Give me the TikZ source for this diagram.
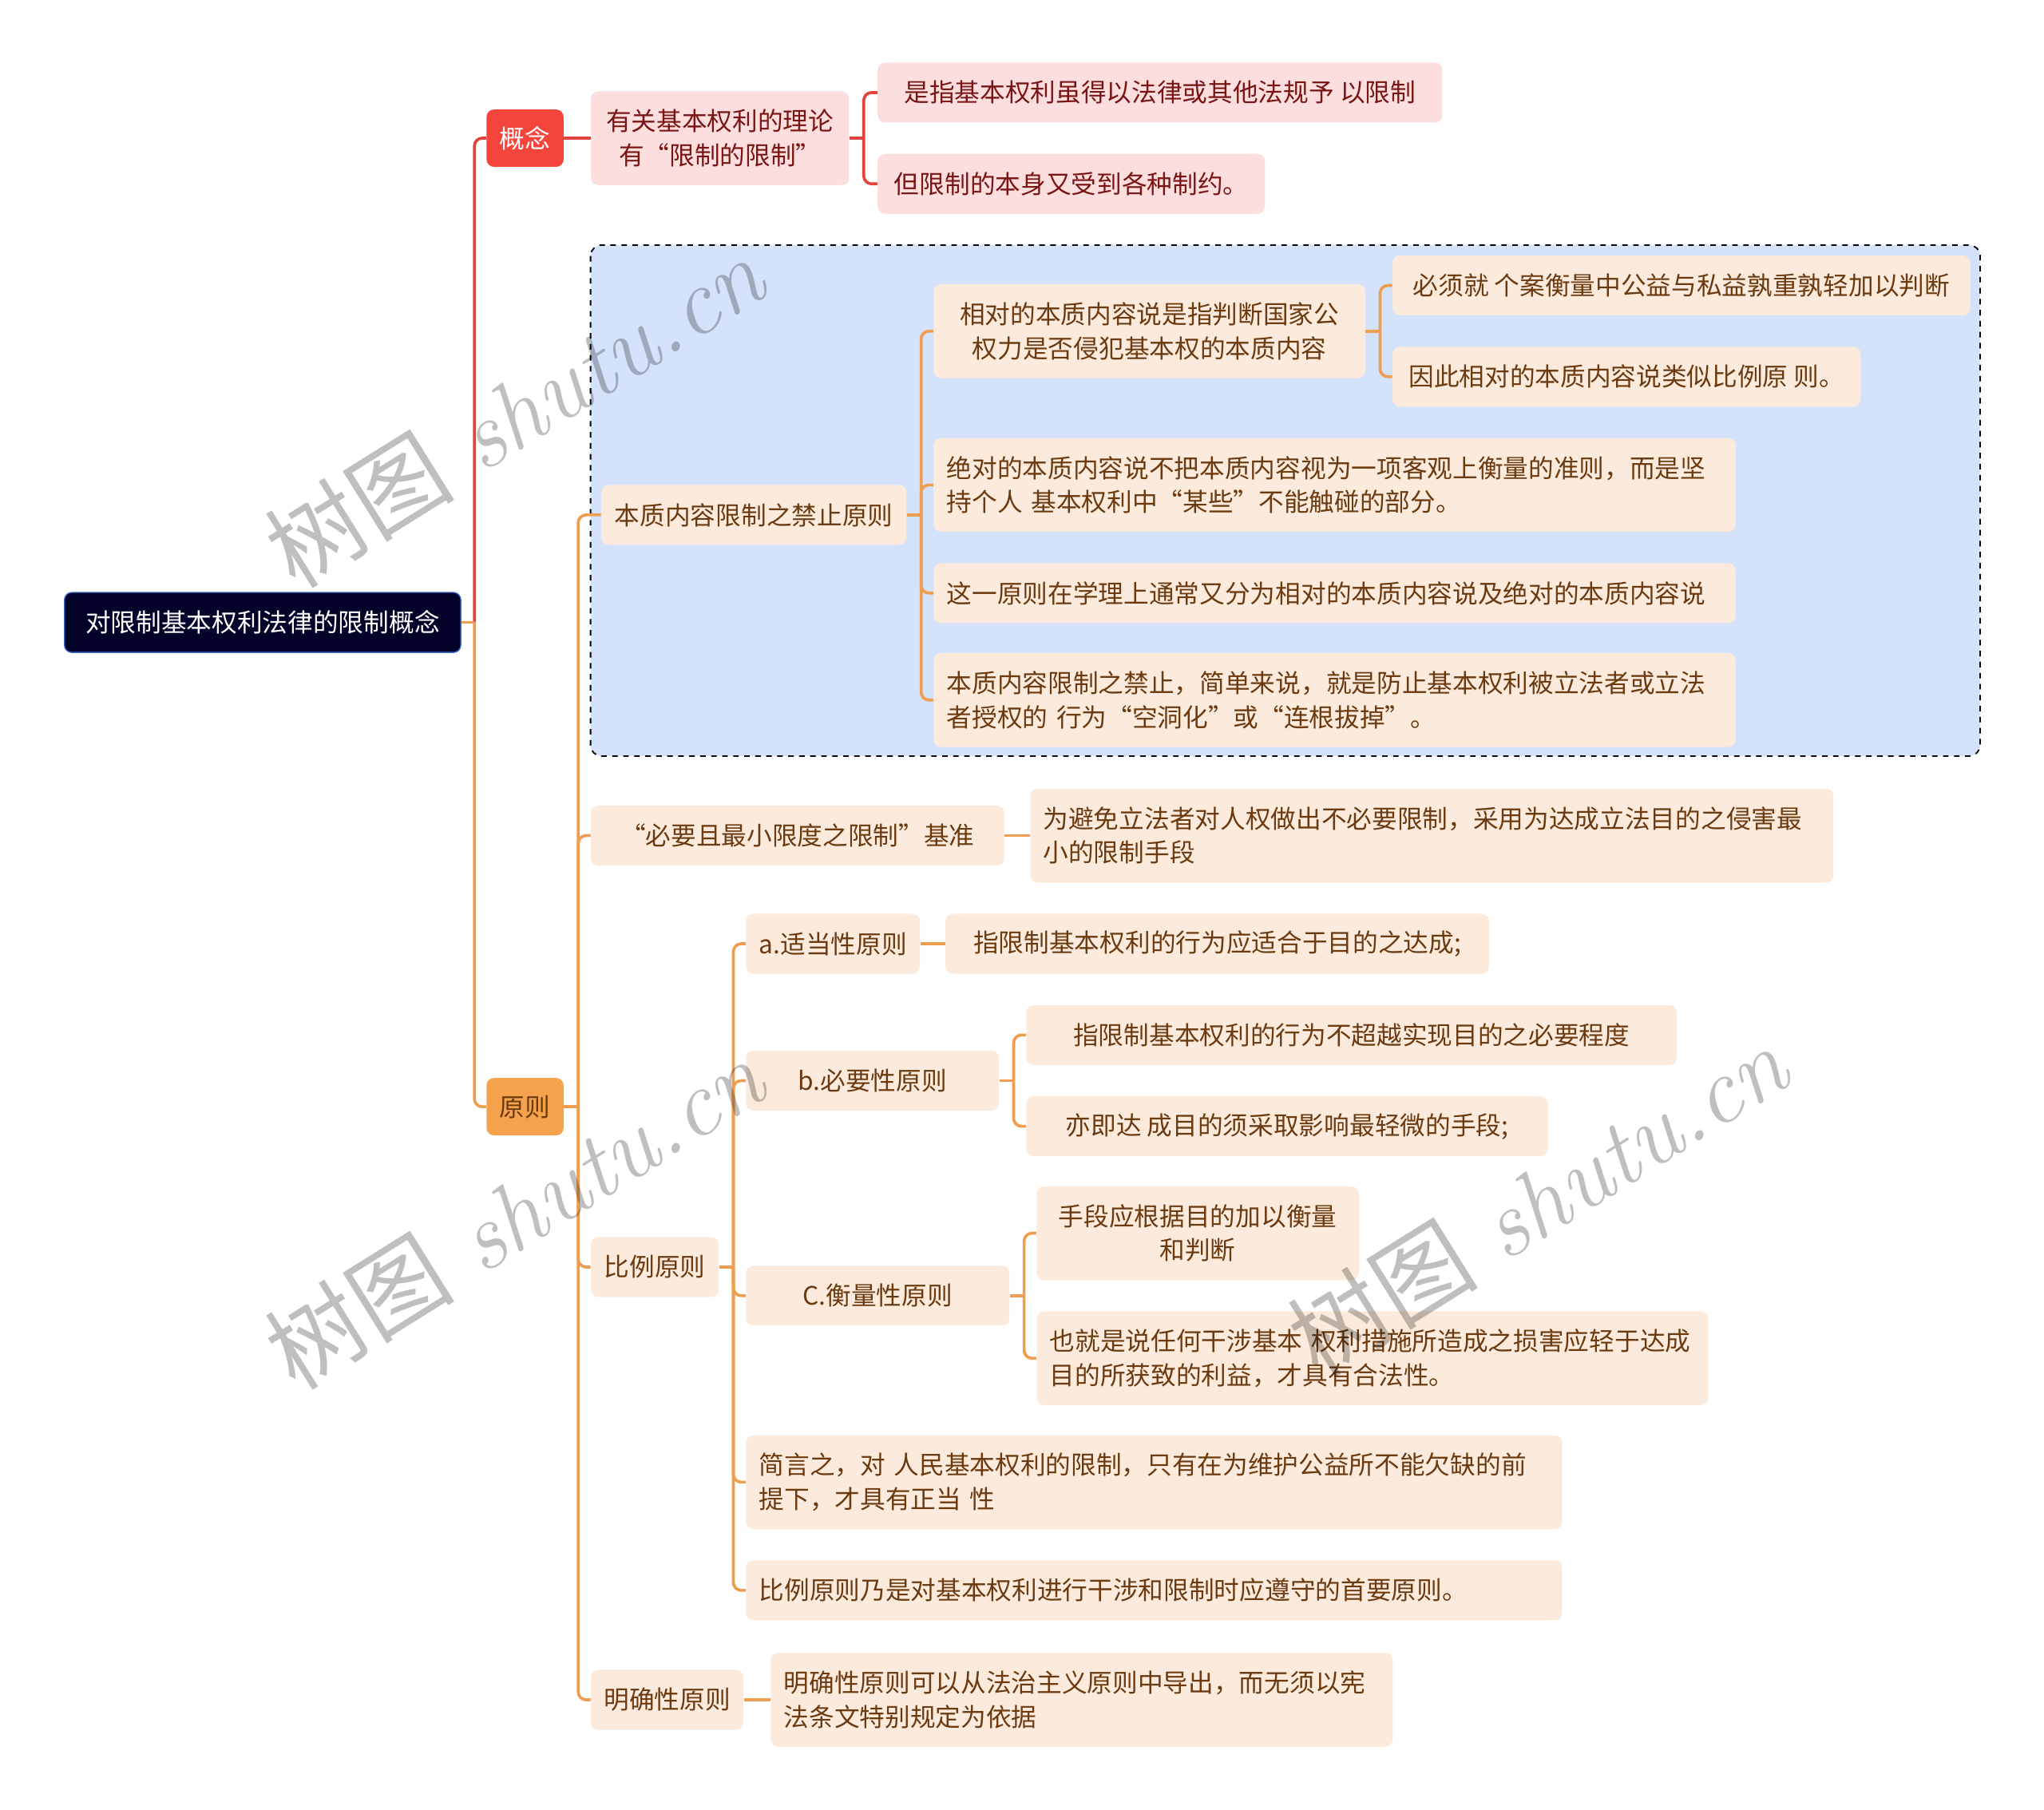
\documentclass[tikz,border=0pt]{standalone}
\usepackage{fontspec}
\newfontfamily\cjk{Noto Sans CJK SC}
\definecolor{navy}{HTML}{03032A}
\definecolor{rootedge}{HTML}{3A6BC8}
\definecolor{redbox}{HTML}{F4453C}
\definecolor{orgbox}{HTML}{F5A24C}
\definecolor{pinkfill}{HTML}{FDDEDE}
\definecolor{pinktext}{HTML}{7A1515}
\definecolor{peach}{HTML}{FCEBDC}
\definecolor{browntext}{HTML}{6B3A10}
\definecolor{redline}{HTML}{E0443C}
\definecolor{orgline}{HTML}{EF9E50}
\definecolor{areablue}{HTML}{D4E3FB}
\tikzset{
  base/.style={anchor=west, rounded corners=4pt, inner xsep=0.25cm, inner ysep=0pt,
    minimum height=1.15cm, font=\cjk\fontsize{13.8pt}{18.5pt}\selectfont},
  rootbox/.style={base, fill=navy, draw=rootedge, line width=0.6pt, text=white},
  kbox/.style={base, fill=redbox, text=white},
  ybox/.style={base, fill=orgbox, text=browntext},
  pk/.style={base, fill=pinkfill, text=pinktext},
  pc/.style={base, fill=peach, text=browntext},
  tall/.style={minimum height=1.8cm},
  rl/.style={draw=redline, line width=1.6pt, rounded corners=0.15cm},
  ol/.style={draw=orgline, line width=1.6pt, rounded corners=0.15cm},
  wm/.style={text=black, opacity=0.25, rotate=32, font=\fontsize{52pt}{52pt}\selectfont}
}
% style, parent, child, offset of the fork
\newcommand\fork[4]{%
  \path (#2.east) ++(#4,0) coordinate (#2-j);
  \draw[#1] (#2.east) -- (#2-j);
  \draw[#1] (#2-j) |- (#3.west);}
\begin{document}
\begin{tikzpicture}[x=0.025cm,y=-0.025cm]
\useasboundingbox (0,0) rectangle (1568,1388);
\draw[dashed, fill=areablue, rounded corners=6pt, line width=0.8pt] (453,188) rectangle (1519,580);

\node[rootbox, minimum width=7.6cm] (root) at (49,477.5) {对限制基本权利法律的限制概念};
\node[kbox, minimum width=1.475cm, minimum height=1.1cm] (gn) at (373,106) {概念};
\node[ybox, minimum width=1.475cm, minimum height=1.1cm] (yz) at (373,849) {原则};

\node[pk, tall, align=center, minimum width=4.95cm] (theory) at (453,106) {有关基本权利的理论\\有“限制的限制”};
\node[pk, minimum width=10.825cm] (lim) at (673,71) {是指基本权利虽得以法律或其他法规予 以限制};
\node[pk, minimum width=7.425cm] (lim2) at (673,141) {但限制的本身又受到各种制约。};

\node[pc, minimum width=5.85cm] (core) at (461,395) {本质内容限制之禁止原则};
\node[pc, tall, align=center, minimum width=8.275cm] (rel) at (716,254) {相对的本质内容说是指判断国家公\\权力是否侵犯基本权的本质内容};
\node[pc, minimum width=11.075cm] (rel1) at (1068,219) {必须就 个案衡量中公益与私益孰重孰轻加以判断};
\node[pc, minimum width=8.975cm] (rel2) at (1068,289) {因此相对的本质内容说类似比例原 则。};
\node[pc, tall, align=left, text width=14.875cm] (abs) at (716,372) {绝对的本质内容说不把本质内容视为一项客观上衡量的准则，而是坚\\持个人 基本权利中“某些”不能触碰的部分。};
\node[pc, align=left, text width=14.875cm] (split) at (716,455) {这一原则在学理上通常又分为相对的本质内容说及绝对的本质内容说};
\node[pc, tall, align=left, text width=14.875cm] (hollow) at (716,537) {本质内容限制之禁止，简单来说，就是防止基本权利被立法者或立法\\者授权的 行为“空洞化”或“连根拔掉”。};

\node[pc, minimum width=7.925cm] (need) at (453,641) {“必要且最小限度之限制”基准};
\node[pc, tall, align=left, text width=14.9cm] (avoid) at (790,641) {为避免立法者对人权做出不必要限制，采用为达成立法目的之侵害最\\小的限制手段};

\node[pc, minimum width=2.45cm] (prop) at (453,972) {比例原则};
\node[pc, minimum width=3.3cm] (suit) at (572,724) {a.适当性原则};
\node[pc, minimum width=10.425cm] (suit1) at (725,724) {指限制基本权利的行为应适合于目的之达成;};
\node[pc, minimum width=4.85cm] (nec) at (572,829) {b.必要性原则};
\node[pc, minimum width=12.475cm] (nec1) at (787,794) {指限制基本权利的行为不超越实现目的之必要程度};
\node[pc, minimum width=10cm] (nec2) at (787,864) {亦即达 成目的须采取影响最轻微的手段;};
\node[pc, minimum width=5.05cm] (bal) at (572,994) {C.衡量性原则};
\node[pc, tall, align=center, minimum width=6.175cm] (bal1) at (795,946) {手段应根据目的加以衡量\\和判断};
\node[pc, tall, align=left, text width=12.375cm] (bal2) at (795,1042) {也就是说任何干涉基本 权利措施所造成之损害应轻于达成\\目的所获致的利益，才具有合法性。};
\node[pc, tall, align=left, text width=15.15cm] (brief) at (572,1137) {简言之，对 人民基本权利的限制，只有在为维护公益所不能欠缺的前\\提下，才具有正当 性};
\node[pc, align=left, text width=15.15cm] (first) at (572,1220) {比例原则乃是对基本权利进行干涉和限制时应遵守的首要原则。};

\node[pc, minimum width=2.925cm] (clear) at (453,1304) {明确性原则};
\node[pc, tall, align=left, text width=11.425cm] (clear1) at (591,1304) {明确性原则可以从法治主义原则中导出，而无须以宪\\法条文特别规定为依据};

\fork{rl}{root}{gn}{10}
\fork{ol}{root}{yz}{10}
\draw[rl] (gn.east) -- (theory.west);
\fork{rl}{theory}{lim}{11}
\fork{rl}{theory}{lim2}{11}
\foreach \c in {core,need,prop,clear} {\fork{ol}{yz}{\c}{11}}
\foreach \c in {rel,abs,split,hollow} {\fork{ol}{core}{\c}{11}}
\foreach \c in {rel1,rel2} {\fork{ol}{rel}{\c}{11}}
\draw[ol] (need.east) -- (avoid.west);
\foreach \c in {suit,nec,bal,brief,first} {\fork{ol}{prop}{\c}{11}}
\draw[ol] (suit.east) -- (suit1.west);
\foreach \c in {nec1,nec2} {\fork{ol}{nec}{\c}{11}}
\foreach \c in {bal1,bal2} {\fork{ol}{bal}{\c}{11}}
\draw[ol] (clear.east) -- (clear1.west);

\node[wm] (wm1) at (395,315) {{\cjk 树图} \textit{shutu.cn}};
\node[wm] (wm2) at (395,930) {{\cjk 树图} \textit{shutu.cn}};
\node[wm] (wm3) at (1180,920) {{\cjk 树图} \textit{shutu.cn}};
\end{tikzpicture}
\end{document}
